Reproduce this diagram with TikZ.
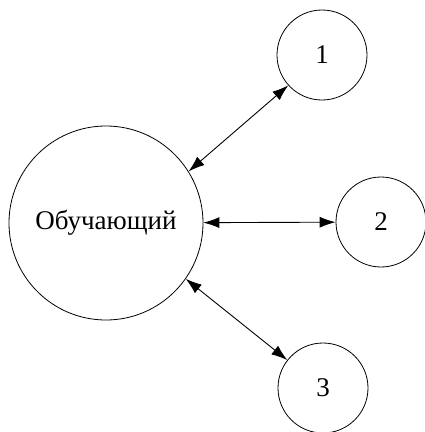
\documentclass[tikz,border=0pt]{standalone}
\usepackage{fontspec}
\setmainfont{Liberation Serif}
\usetikzlibrary{arrows.meta}
\begin{document}
\begin{tikzpicture}[x=1pt, y=-1pt, line width=0.8pt,
  agent/.style={circle, draw, minimum size=90pt, inner sep=0pt, font=\fontsize{27}{31}\selectfont},
  link/.style={{Latex[length=16pt,width=11pt]}-{Latex[length=16pt,width=11pt]}, line width=0.9pt}]
\useasboundingbox (0,0) rectangle (425,432);
\node (learner)[agent, minimum size=194pt] at (106, 223) {Обучающий};
\node (s1)[agent] at (322, 55) {1};
\node (s2)[agent] at (381, 222) {2};
\node (s3)[agent] at (323, 388) {3};
\draw[link] (learner.32) -- (s1.222);
\draw[link] (learner) -- (s2);
\draw[link] (learner.-35) -- (s3.142);
\end{tikzpicture}
\end{document}
